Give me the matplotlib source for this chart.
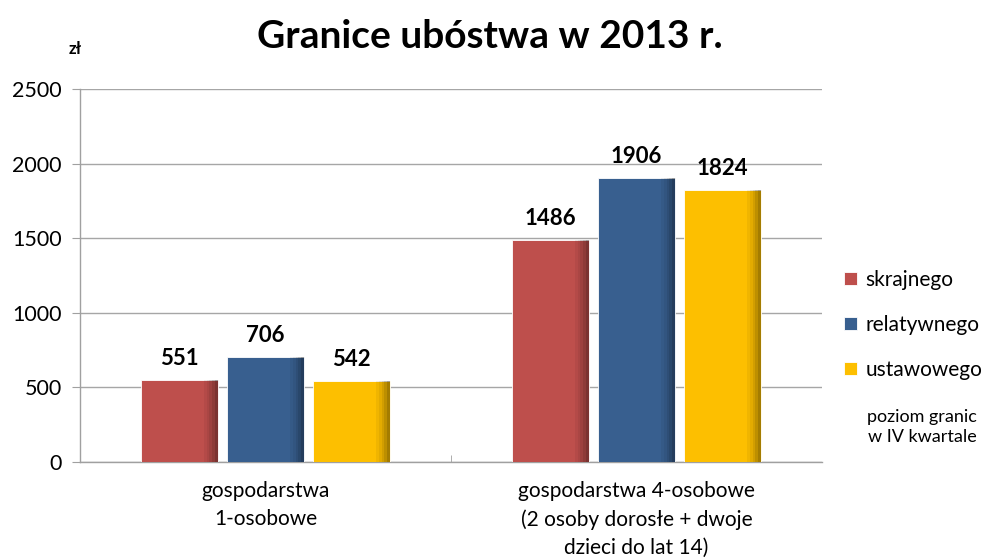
import numpy as np
import matplotlib.pyplot as plt
import matplotlib.ticker as mticker

plt.rcParams["font.family"] = ["Lato", "DejaVu Sans"]

# ── Data ──────────────────────────────────────────────────────────────────────
categories = ["gospodarstwa\n1-osobowe",
              "gospodarstwa 4-osobowe\n(2 osoby dorosłe + dwoje\ndzieci do lat 14)"]
series_names = ["skrajnego", "relatywnego", "ustawowego"]
skrajnego = [551, 1486]
relatywnego = [706, 1906]
ustawowego = [542, 1824]
series_values = [skrajnego, relatywnego, ustawowego]
colors = ["#BE4F4C", "#385F8F", "#FDBF00"]
y_ticks = [0, 500, 1000, 1500, 2000, 2500]

# ── Plot ──────────────────────────────────────────────────────────────────────
fig = plt.figure(figsize=(9.85, 5.58), dpi=100)
ax = fig.add_axes([0.0812, 0.172, 0.7533, 0.6683])

x = np.arange(len(categories))
width = 0.207
step = 0.232
strip = 0.0075

for i, (name, vals, col) in enumerate(zip(series_names, series_values, colors)):
    pos = x + (i - 1) * step
    ax.bar(pos, vals, width=width, color=col, edgecolor="white",
           linewidth=0.6, label=name, zorder=3)
    # darker right edge to mimic the shaded Excel bars
    for k, a in enumerate([0.05, 0.10, 0.17, 0.25, 0.35]):
        ax.bar(pos + width / 2 - (5 - k) * strip, vals, width=strip,
               align="edge", color="black", alpha=a, linewidth=0, zorder=4)
    for p, v in zip(pos, vals):
        ax.text(p, v + 75, f"{v}", ha="center", va="bottom",
                fontsize=16, fontweight="bold", color="#000000", zorder=5)

ax.set_xlim(-0.5, 1.5)
ax.set_ylim(0, 2500)
ax.set_yticks(y_ticks)
ax.set_xticks(x)
ax.set_xticklabels(categories, fontsize=15, linespacing=1.5)
ax.xaxis.set_minor_locator(mticker.FixedLocator([0.5]))
ax.tick_params(axis="x", which="major", length=0, pad=14)
ax.tick_params(axis="x", which="minor", length=5, color="#A0A0A0", direction="in")
ax.tick_params(axis="y", labelsize=15.5, length=6, color="#A0A0A0", pad=7)

ax.grid(axis="y", color="#A6A6A6", linewidth=1.0, zorder=0)
ax.set_axisbelow(True)
for s in ["top", "right"]:
    ax.spines[s].set_visible(False)
for s in ["left", "bottom"]:
    ax.spines[s].set_color("#A0A0A0")
    ax.spines[s].set_linewidth(1.0)

fig.text(0.497, 0.935, "Granice ubóstwa w 2013 r.", ha="center", va="center",
         fontsize=28, fontweight="bold")
fig.text(0.076, 0.912, "zł", ha="center", va="center",
         fontsize=12, fontweight="bold")

leg = ax.legend(loc="upper left", bbox_to_anchor=(1.005, 0.565), frameon=False,
                fontsize=15, handlelength=0.6, handleheight=0.6,
                handletextpad=0.4, labelspacing=1.2)
fig.text(0.936, 0.235, "poziom granic\nw IV kwartale", ha="center", va="center",
         fontsize=13, linespacing=1.35)

plt.savefig("out.png", dpi=100)
